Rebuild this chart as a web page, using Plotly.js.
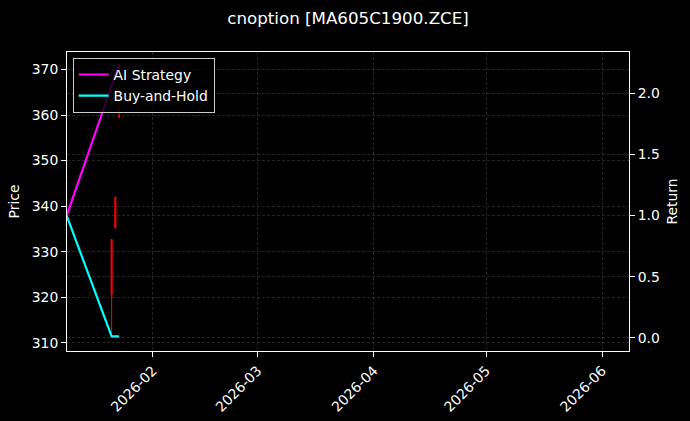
<!DOCTYPE html>
<html>
<head>
<meta charset="utf-8">
<script src="https://cdn.plot.ly/plotly-3.0.1.min.js"></script>
<style>html,body{margin:0;padding:0;background:#000;}#chart{width:690px;height:421px;}</style>
</head>
<body>
<div id="chart"></div>
<script>
// Candlestick data
const candleDates = ['2026-01-21', '2026-01-22', '2026-01-23'];
const candleOpen  = [332.7, 335.2, 360.0];
const candleHigh  = [332.7, 342.0, 367.0];
const candleLow   = [311.7, 335.2, 359.3];
const candleClose = [320.5, 342.0, 359.6];

// Return series
const returnDates = ['2026-01-09', '2026-01-21', '2026-01-22', '2026-01-23'];
const aiStrategy  = [1.0, 2.06, 2.15, 2.24];
const buyAndHold  = [1.0, 0.01, 0.01, 0.01];

// Axis ticks
const xTickVals = ['2026-02-01', '2026-03-01', '2026-04-01', '2026-05-01', '2026-06-01'];
const xTickText = ['2026-02', '2026-03', '2026-04', '2026-05', '2026-06'];
const priceTicks = [310, 320, 330, 340, 350, 360, 370];
const returnTicks = [0.0, 0.5, 1.0, 1.5, 2.0];
const returnTickText = ['0.0', '0.5', '1.0', '1.5', '2.0'];

const FONT = 'DejaVu Sans, sans-serif';
const FS = 13.9;
const gridColor = 'rgba(120,120,120,0.6)';
const gridDash = '3px,2px';

const traces = [
  {
    type: 'candlestick',
    x: candleDates, open: candleOpen, high: candleHigh, low: candleLow, close: candleClose,
    increasing: {line: {color: '#ff0000', width: 1}, fillcolor: '#ff0000'},
    decreasing: {line: {color: '#ff0000', width: 1}, fillcolor: '#ff0000'},
    whiskerwidth: 0,
    showlegend: false,
    hoverinfo: 'skip',
    yaxis: 'y'
  },
  {
    type: 'scatter', mode: 'lines', name: 'AI Strategy',
    x: returnDates, y: aiStrategy,
    line: {color: '#ff00ff', width: 2.2},
    yaxis: 'y2'
  },
  {
    type: 'scatter', mode: 'lines', name: 'Buy-and-Hold',
    x: returnDates, y: buyAndHold,
    line: {color: '#00ffff', width: 2.2},
    yaxis: 'y2'
  }
];

const layout = {
  width: 690, height: 421,
  paper_bgcolor: '#000', plot_bgcolor: '#000',
  font: {family: FONT, color: '#ffffff', size: FS},
  margin: {l: 67, r: 61, t: 52, b: 70, pad: 0},
  boxgap: 0.6,
  title: {text: 'cnoption [MA605C1900.ZCE]', font: {family: FONT, size: 16.7, color: '#ffffff'},
          x: 0.5, xref: 'paper', y: 1 - 18 / 421, yref: 'container', xanchor: 'center', yanchor: 'middle'},
  showlegend: true,
  legend: {
    x: 0.01, y: 0.98, xanchor: 'left', yanchor: 'top',
    bgcolor: 'rgba(0,0,0,0.8)', bordercolor: '#cccccc', borderwidth: 1,
    font: {family: FONT, size: FS, color: '#ffffff'},
    tracegroupgap: 2
  },
  xaxis: {
    type: 'date',
    range: ['2026-01-09 02:00', '2026-06-08 04:00'],
    rangeslider: {visible: false},
    tickmode: 'array', tickvals: xTickVals, ticktext: xTickText,
    tickangle: -45,
    ticks: 'outside', ticklen: 5, tickcolor: '#ffffff', tickwidth: 1,
    showline: true, linecolor: '#ffffff', linewidth: 1, mirror: true,
    showgrid: true, gridcolor: gridColor, gridwidth: 0.5, griddash: gridDash,
    zeroline: false,
    tickfont: {family: FONT, size: FS, color: '#ffffff'}
  },
  yaxis: {
    range: [308.18, 373.86],
    tickmode: 'array', tickvals: priceTicks,
    ticks: 'outside', ticklen: 5, tickcolor: '#ffffff', tickwidth: 1,
    showline: true, linecolor: '#ffffff', linewidth: 1, mirror: true,
    showgrid: true, gridcolor: gridColor, gridwidth: 0.5, griddash: gridDash,
    zeroline: false,
    title: {text: 'Price', font: {family: FONT, size: FS, color: '#ffffff'}, standoff: 8},
    tickfont: {family: FONT, size: FS, color: '#ffffff'}
  },
  yaxis2: {
    overlaying: 'y', side: 'right',
    range: [-0.109, 2.340],
    tickmode: 'array', tickvals: returnTicks, ticktext: returnTickText,
    ticks: 'outside', ticklen: 5, tickcolor: '#ffffff', tickwidth: 1,
    showline: true, linecolor: '#ffffff', linewidth: 1,
    showgrid: true, gridcolor: gridColor, gridwidth: 0.5, griddash: gridDash,
    zeroline: false,
    title: {text: 'Return', font: {family: FONT, size: FS, color: '#ffffff'}, standoff: 8},
    tickfont: {family: FONT, size: FS, color: '#ffffff'}
  }
};

Plotly.newPlot('chart', traces, layout, {displayModeBar: false, staticPlot: true});
</script>
</body>
</html>
